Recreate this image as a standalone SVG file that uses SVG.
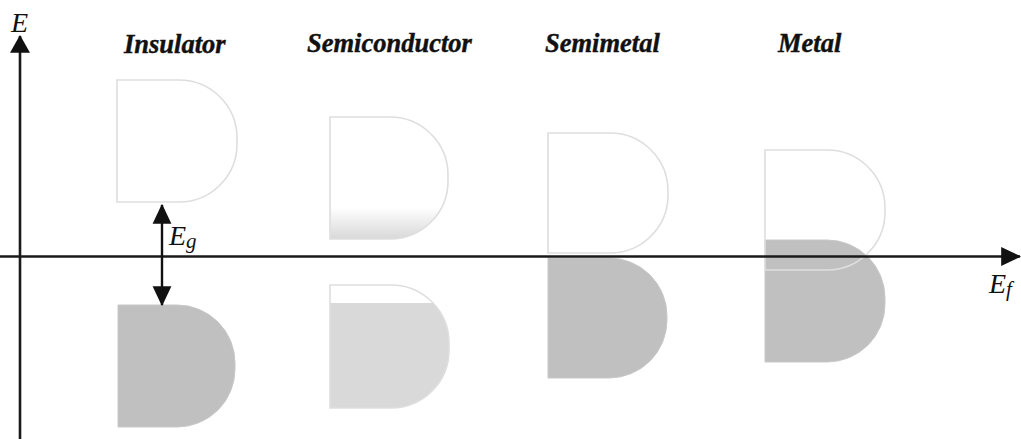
<svg xmlns="http://www.w3.org/2000/svg" width="1021" height="439" viewBox="0 0 1021 439">
<style>
.lbl{font-family:"Liberation Serif","Times New Roman",serif;font-weight:bold;font-style:italic;font-size:26.5px;fill:#111;stroke:#111;stroke-width:0.4}
.sym{font-family:"Liberation Serif","Times New Roman",serif;font-style:italic;font-size:28px;fill:#111}
.sub{font-size:21px}
.empty{fill:#fff;stroke:#dedede;stroke-width:1.6}
.full{fill:#c0c0c0;stroke:#c8c8c8;stroke-width:1}
.axis{stroke:#1a1a1a;stroke-width:2.6;fill:none}
.dbl{stroke:#111;stroke-width:2.4;fill:none}
</style>
<defs>
<marker id="ah" markerUnits="userSpaceOnUse" markerWidth="20" markerHeight="20" viewBox="0 0 16 18" refX="15" refY="9" orient="auto-start-reverse">
<path d="M0,0 L16,9 L0,18 Z" fill="#111"/>
</marker>
<marker id="ah2" markerUnits="userSpaceOnUse" markerWidth="20" markerHeight="20" viewBox="0 0 17 16" refX="16" refY="8" orient="auto-start-reverse">
<path d="M0,0 L17,8 L0,16 Z" fill="#111"/>
</marker>
<linearGradient id="scTop" x1="0" y1="0" x2="0" y2="1">
<stop offset="0.74" stop-color="#ffffff"/>
<stop offset="1" stop-color="#d8d8d8"/>
</linearGradient>
<linearGradient id="scBot" x1="0" y1="0" x2="0" y2="1">
<stop offset="0.146" stop-color="#ffffff"/>
<stop offset="0.146" stop-color="#d9d9d9"/>
<stop offset="1" stop-color="#d9d9d9"/>
</linearGradient>
</defs>
<rect width="1021" height="439" fill="#fff"/>

<g id="label-insulator"><text class="lbl" x="124" y="53">Insulator</text></g>
<g id="label-semiconductor"><text class="lbl" x="307" y="52">Semiconductor</text></g>
<g id="label-semimetal"><text class="lbl" x="545" y="52">Semimetal</text></g>
<g id="label-metal"><text class="lbl" x="778" y="52">Metal</text></g>

<g id="insulator">
<path class="empty" d="M117,80 H179 A58,58 0 0 1 237,138 V144 A58,58 0 0 1 179,202 H117 Z"/>
<path class="full" d="M118,305 H177 A58,58 0 0 1 235,363 V369 A58,58 0 0 1 177,427 H118 Z"/>
</g>

<g id="semiconductor">
<path class="empty" style="fill:url(#scTop)" d="M330,117 H390 A58,58 0 0 1 448,175 V181 A58,58 0 0 1 390,239 H330 Z"/>
<path class="empty" style="fill:url(#scBot)" d="M330,285 H391 A58,58 0 0 1 449,343 V350 A58,58 0 0 1 391,408 H330 Z"/>
</g>

<g id="semimetal">
<path class="empty" d="M548,133 H610 A58,58 0 0 1 668,191 V195 A58,58 0 0 1 610,253 H548 Z"/>
<path class="full" d="M548,258 H609 A58,58 0 0 1 667,316 V320 A58,58 0 0 1 609,378 H548 Z"/>
</g>

<g id="metal">
<path class="full" d="M765,240 H827 A58,58 0 0 1 885,298 V304 A58,58 0 0 1 827,362 H765 Z"/>
<path class="empty" style="fill:none" d="M765,150 H827 A58,58 0 0 1 885,208 V212 A58,58 0 0 1 827,270 H765 Z"/>
</g>

<g id="connectors">
<line class="axis" x1="20" y1="439" x2="20" y2="36" marker-end="url(#ah)"/>
<line class="axis" x1="0" y1="256.5" x2="1020" y2="256.5" marker-end="url(#ah2)"/>
<line class="dbl" x1="162" y1="205" x2="162" y2="305" marker-start="url(#ah2)" marker-end="url(#ah2)"/>
</g>

<g id="symbols">
<text class="sym" x="11" y="32">E</text>
<text class="sym" x="169" y="245">E<tspan class="sub" dy="3">g</tspan></text>
<text class="sym" x="989" y="293">E<tspan class="sub" dy="3">f</tspan></text>
</g>
</svg>
